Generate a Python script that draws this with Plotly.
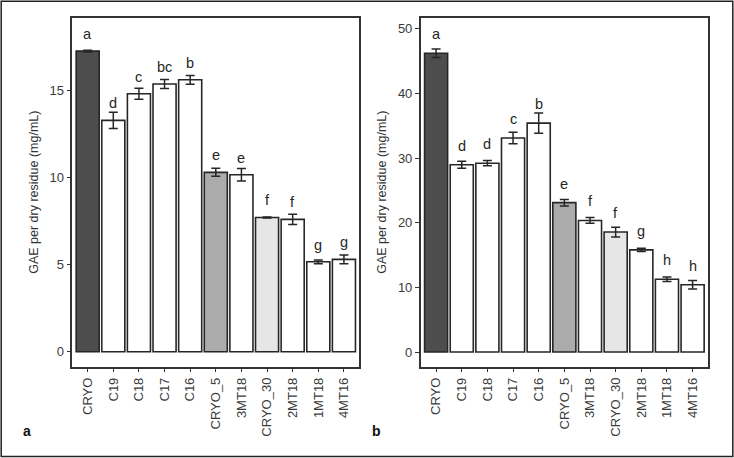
import plotly.graph_objects as go

categories = ["CRYO", "C19", "C18", "C17", "C16", "CRYO_5", "3MT18", "CRYO_30", "2MT18", "1MT18", "4MT16"]
fill_colors = ["#4d4d4d", "#ffffff", "#ffffff", "#ffffff", "#ffffff", "#ababab", "#ffffff", "#e6e6e6", "#ffffff", "#ffffff", "#ffffff"]

values_a = [17.28, 13.3, 14.83, 15.39, 15.63, 10.31, 10.17, 7.72, 7.61, 5.17, 5.31]
errors_a = [0.05, 0.47, 0.32, 0.26, 0.25, 0.23, 0.36, 0.03, 0.29, 0.11, 0.25]
letters_a = ["a", "d", "c", "bc", "b", "e", "e", "f", "f", "g", "g"]

values_b = [46.2, 28.95, 29.2, 33.1, 35.4, 23.1, 20.35, 18.55, 15.8, 11.25, 10.4]
errors_b = [0.65, 0.54, 0.4, 0.9, 1.55, 0.5, 0.45, 0.75, 0.25, 0.35, 0.65]
letters_b = ["a", "d", "d", "c", "b", "e", "f", "f", "g", "h", "h"]

ticks_a = [0, 5, 10, 15]
ticks_b = [0, 10, 20, 30, 40, 50]

y_title = "GAE per dry residue (mg/mL)"
FONT = "Liberation Sans, Arial, sans-serif"
INK = "#262626"

fig = go.Figure()

fig.add_trace(go.Bar(
    x=categories, y=values_a, width=0.9,
    marker=dict(color=fill_colors, line=dict(color=INK, width=1.6)),
    error_y=dict(type="data", array=errors_a, color=INK, thickness=1.5, width=4.5),
    xaxis="x", yaxis="y", showlegend=False,
))
fig.add_trace(go.Bar(
    x=categories, y=values_b, width=0.9,
    marker=dict(color=fill_colors, line=dict(color=INK, width=1.6)),
    error_y=dict(type="data", array=errors_b, color=INK, thickness=1.5, width=4.5),
    xaxis="x2", yaxis="y2", showlegend=False,
))

annotations = []
for c, v, t in zip(categories, values_a, letters_a):
    annotations.append(dict(x=c, y=v, xref="x", yref="y", text=t, showarrow=False,
                            yanchor="middle", yshift=17, font=dict(size=14.5, color=INK, family=FONT)))
for c, v, t in zip(categories, values_b, letters_b):
    annotations.append(dict(x=c, y=v, xref="x2", yref="y2", text=t, showarrow=False,
                            yanchor="middle", yshift=19, font=dict(size=14.5, color=INK, family=FONT)))
annotations.append(dict(x=27 / 734, y=1 - 431 / 458, xref="paper", yref="paper", text="<b>a</b>",
                        showarrow=False, xanchor="center", yanchor="middle",
                        font=dict(size=14, color="#111", family=FONT)))
annotations.append(dict(x=376 / 734, y=1 - 431 / 458, xref="paper", yref="paper", text="<b>b</b>",
                        showarrow=False, xanchor="center", yanchor="middle",
                        font=dict(size=14, color="#111", family=FONT)))

axis_common = dict(showline=True, mirror=True, linecolor="#333333", linewidth=1.5,
                   ticks="outside", ticklen=4, tickwidth=1.2, tickcolor="#333333",
                   showgrid=False, zeroline=False)
xtickfont = dict(size=13, color="#3a3a3a", family=FONT)
ytickfont = dict(size=13, color="#3a3a3a", family=FONT)
title_font = dict(size=12.5, color="#333333", family=FONT)

fig.update_layout(
    width=734, height=458,
    margin=dict(l=0, r=0, t=0, b=0),
    paper_bgcolor="white", plot_bgcolor="white",
    font=dict(family=FONT, color=INK),
    annotations=annotations,
    xaxis=dict(domain=[72.3 / 734, 359.3 / 734], anchor="y", type="category",
               range=[-0.6, 10.6], tickangle=-90, tickfont=xtickfont, **axis_common),
    yaxis=dict(domain=[1 - 366.7 / 458, 1 - 17.7 / 458], anchor="x",
               range=[-0.86, 19.2], tickvals=ticks_a, tickfont=ytickfont,
               title=dict(text=y_title, font=title_font, standoff=8),
               **axis_common),
    xaxis2=dict(domain=[420.7 / 734, 708 / 734], anchor="y2", type="category",
                range=[-0.6, 10.6], tickangle=-90, tickfont=xtickfont, **axis_common),
    yaxis2=dict(domain=[1 - 366.7 / 458, 1 - 17.7 / 458], anchor="x2",
                range=[-2.27, 51.7], tickvals=ticks_b, tickfont=ytickfont,
                title=dict(text=y_title, font=title_font, standoff=8),
                **axis_common),
    shapes=[dict(type="rect", xref="paper", yref="paper",
                 x0=1.2 / 734, x1=1 - 1.2 / 734, y0=1.5 / 458, y1=1 - 1.2 / 458,
                 line=dict(color="#222222", width=1.5), fillcolor="rgba(0,0,0,0)", layer="above")],
    bargap=0.1,
)

fig.write_html("out.html", config={"displayModeBar": False},
               post_script="document.body.style.margin='0';document.body.style.padding='0';document.body.style.overflow='hidden';")
